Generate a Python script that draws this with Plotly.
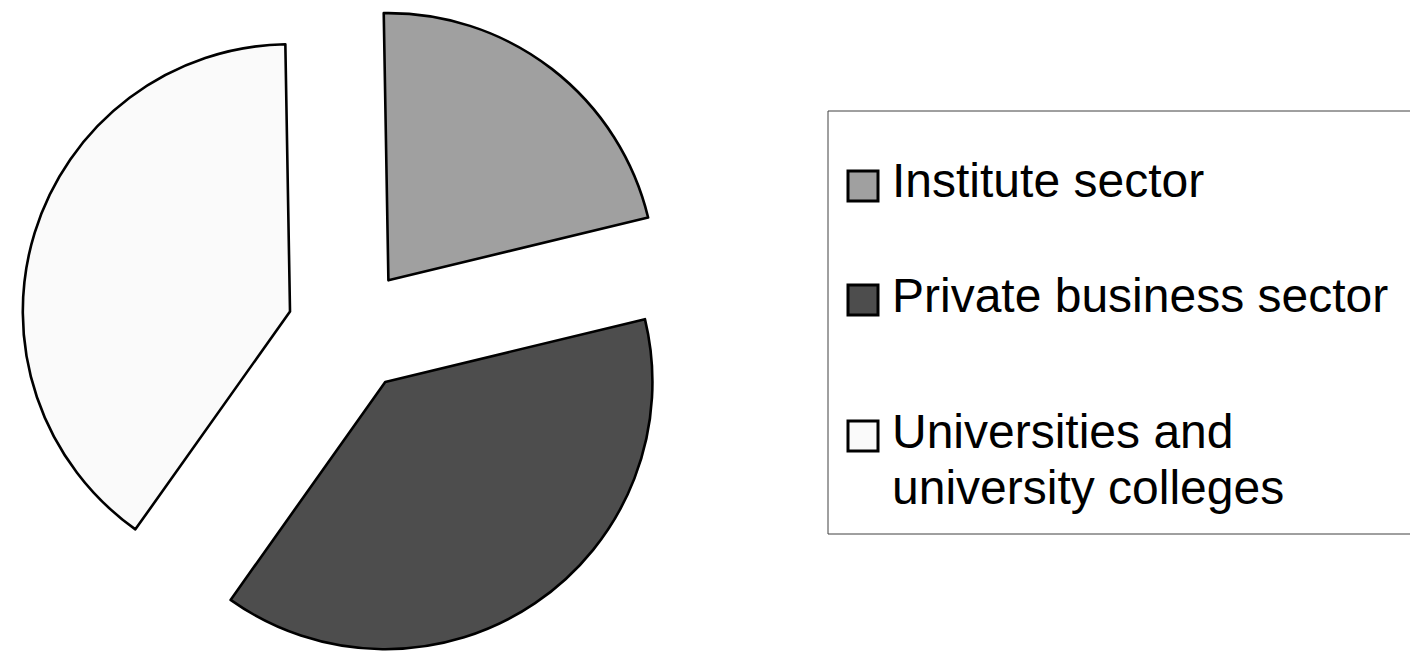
import plotly.graph_objects as go

W, H = 1410, 660

# ---- data ----
labels = ["Institute sector", "Private business sector", "Universities and university colleges"]
shares = [21.5, 38.6, 39.9]
colors = ["#A0A0A0", "#4D4D4D", "#FAFAFA"]
legend_lines = [["Institute sector"], ["Private business sector"], ["Universities and", "university colleges"]]


def px(x):
    return x / W


def py(y):
    return 1 - y / H


fig = go.Figure()
fig.add_trace(go.Pie(
    labels=labels,
    values=shares,
    sort=False,
    direction="clockwise",
    rotation=-1,
    pull=[0.235] * len(labels),
    marker=dict(colors=colors, line=dict(color="#000000", width=2.6)),
    textinfo="none",
    hoverinfo="label+percent",
    showlegend=False,
    domain=dict(x=[0, 700 / W], y=[0, 1]),
))

# ---- manual legend (box, swatches, text) ----
shapes = [dict(type="rect", xref="paper", yref="paper",
               x0=px(828), x1=px(1412), y0=py(534), y1=py(111),
               line=dict(color="#404040", width=1), fillcolor="rgba(0,0,0,0)", layer="below")]
annotations = []
item_centers = [181, 295, 431]
line_gap = 56
sw = 30
for i, lines in enumerate(legend_lines):
    cy = item_centers[i]
    shapes.append(dict(type="rect", xref="paper", yref="paper",
                       x0=px(848), x1=px(848 + sw), y0=py(cy + 5 + sw / 2), y1=py(cy + 5 - sw / 2),
                       line=dict(color="#000000", width=3), fillcolor=colors[i]))
    for j, t in enumerate(lines):
        annotations.append(dict(text=t, xref="paper", yref="paper",
                                x=px(890), y=py(cy + j * line_gap),
                                xanchor="left", yanchor="middle", showarrow=False,
                                font=dict(family="Liberation Sans, Arial, sans-serif", size=48, color="#000000")))

fig.update_layout(
    width=W, height=H,
    margin=dict(l=0, r=0, t=0, b=0),
    paper_bgcolor="#FFFFFF",
    plot_bgcolor="#FFFFFF",
    shapes=shapes,
    annotations=annotations,
)

fig.write_html("out.html")
